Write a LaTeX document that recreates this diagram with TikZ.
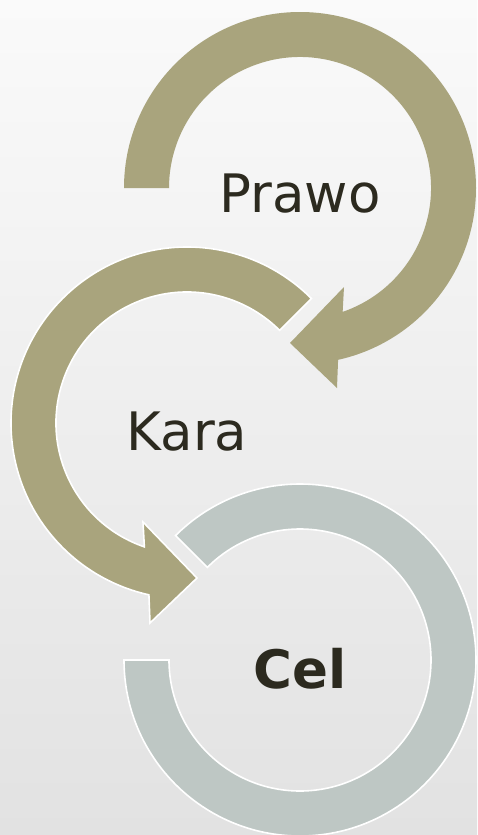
\documentclass[tikz,border=0pt]{standalone}
\usepackage{fontspec}
\newfontfamily\labelfont{DejaVu Sans}
\definecolor{olivefill}{HTML}{A9A47D}
\definecolor{ringfill}{HTML}{BEC7C4}
\definecolor{textdark}{HTML}{2C2A1F}
\definecolor{bgtop}{HTML}{FAFAFA}
\definecolor{bgbottom}{HTML}{E2E2E2}
\tikzset{
  arrowshape/.style={fill=olivefill, draw=white, line width=1.6pt, line join=miter},
  toparrowshape/.style={fill=olivefill},
  ringshape/.style={fill=ringfill, draw=white, line width=1.6pt, line join=miter},
  labeltext/.style={text=textdark, font=\labelfont\fontsize{53}{60}\selectfont, anchor=base, inner sep=0pt},
}
\begin{document}
\begin{tikzpicture}[x=1pt,y=-1pt]
\shade[top color=bgtop, bottom color=bgbottom] (0,0) rectangle (477,835);
\useasboundingbox (0,0) rectangle (477,835);
\coordinate (T) at (300,188);
\coordinate (K) at (187,423);
\coordinate (C) at (300,660);
% bottom ring (Cel)
\path[ringshape] ([shift={(180:176)}]C) arc[start angle=180, end angle=-135, radius=176]
  -- ([shift={(-135:131)}]C) arc[start angle=-135, end angle=180, radius=131] -- cycle;
% middle arrow (Kara)
\path[arrowshape] ([shift={(315:176)}]K) arc[start angle=315, end angle=102.5, radius=176]
  -- ([shift={(-37,200)}]K) -- ([shift={(10,155)}]K) -- ([shift={(-44,99)}]K)
  -- ([shift={(109:131)}]K) arc[start angle=109, end angle=315, radius=131] -- cycle;
% top arrow (Prawo)
\path[toparrowshape] ([shift={(180:176)}]T) arc[start angle=180, end angle=437.5, radius=176]
  -- ([shift={(37,200)}]T) -- ([shift={(-10,155)}]T) -- ([shift={(44,99)}]T)
  -- ([shift={(431:131)}]T) arc[start angle=431, end angle=180, radius=131] -- cycle;
\node[labeltext] (prawo) at ([shift={(0,24)}]T) {Prawo};
\node[labeltext] (kara) at ([shift={(0,27)}]K) {Kara};
\node[labeltext, font=\labelfont\bfseries\fontsize{53}{60}\selectfont] (cel) at ([shift={(0,28)}]C) {Cel};
\end{tikzpicture}
\end{document}
